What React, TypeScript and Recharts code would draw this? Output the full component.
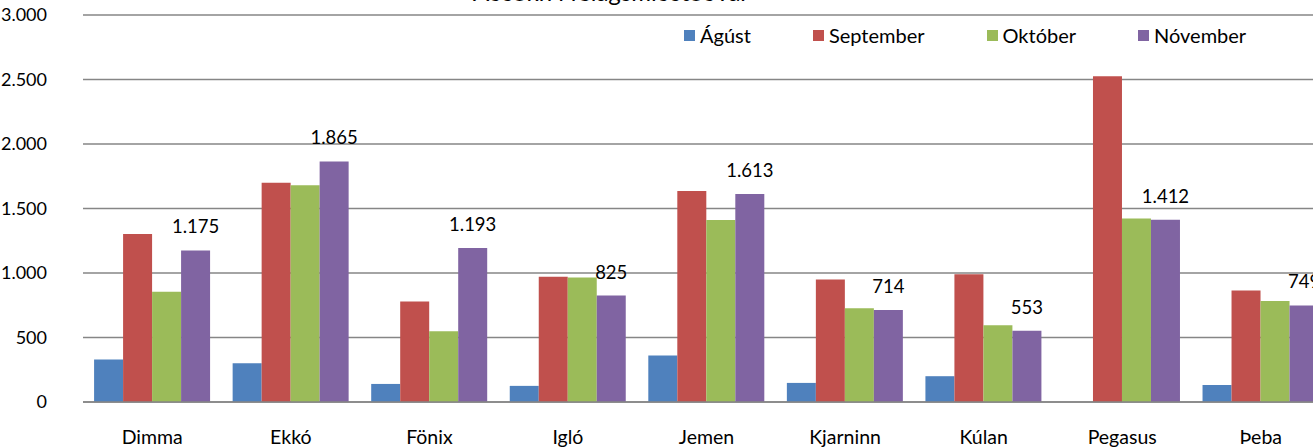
import React from 'react';
import { BarChart, Bar, XAxis, YAxis, CartesianGrid, Legend, LabelList } from 'recharts';

const categories = ['Dimma', 'Ekkó', 'Fönix', 'Igló', 'Jemen', 'Kjarninn', 'Kúlan', 'Pegasus', 'Þeba'];
const agust = [330, 300, 140, 125, 360, 148, 200, 0, 132];
const september = [1303, 1700, 780, 970, 1635, 950, 990, 2525, 865];
const oktober = [855, 1680, 548, 965, 1411, 726, 594, 1422, 783];
const november = [1175, 1865, 1193, 825, 1613, 714, 553, 1412, 749];
const yTicks = [0, 500, 1000, 1500, 2000, 2500, 3000];

const series = [
  { key: 'agust', name: 'Ágúst', color: '#4F81BD' },
  { key: 'september', name: 'September', color: '#C0504D' },
  { key: 'oktober', name: 'Október', color: '#9BBB59' },
  { key: 'november', name: 'Nóvember', color: '#8064A2' },
];

const data = categories.map((name, i) => ({
  name,
  agust: agust[i],
  september: september[i],
  oktober: oktober[i],
  november: november[i],
}));

// icelandic thousands separator: 1.175
const fmt = (v: any) => String(v).replace(/\B(?=(\d{3})+(?!\d))/g, '.');

const font = 'Lato, "Noto Sans", sans-serif';

const renderLegend = () => (
  <div style={{ display: 'flex', alignItems: 'center', paddingLeft: 684, fontFamily: font, fontSize: 20, color: '#000' }}>
    {series.map((s) => (
      <div key={s.key} style={{ display: 'flex', alignItems: 'center', marginRight: 62 }}>
        <span style={{ width: 11, height: 11, background: s.color, marginRight: 5, display: 'inline-block' }} />
        <span>{s.name}</span>
      </div>
    ))}
  </div>
);

export default function App() {
  return (
    <div
      style={{
        position: 'fixed',
        left: 0,
        top: 0,
        width: 1313,
        height: 448,
        overflow: 'hidden',
        background: '#fff',
        fontFamily: font,
      }}
    >
      {/* title sits mostly above the picture, only the bottom of it shows */}
      <div
        style={{
          position: 'absolute',
          top: -19.5,
          left: 311,
          width: 600,
          textAlign: 'center',
          fontSize: 24,
          lineHeight: '22px',
          color: '#000',
          whiteSpace: 'nowrap',
        }}
      >
        Aðsókn í félagsmiðstöðvar
      </div>
      <BarChart
        width={1330}
        height={448}
        data={data}
        margin={{ top: 15, right: 0, bottom: 0, left: 0 }}
        barCategoryGap="8%"
        barGap={0}
      >
        <CartesianGrid vertical={false} stroke="#868686" strokeWidth={1.7} />
        <XAxis
          dataKey="name"
          height={46}
          tickSize={0}
          tickMargin={28}
          axisLine={{ stroke: '#868686', strokeWidth: 1.7 }}
          tick={{ fill: '#000', fontSize: 19.5, fontFamily: font }}
          interval={0}
        />
        <YAxis
          width={83}
          domain={[0, 3000]}
          ticks={yTicks}
          tickFormatter={fmt}
          tickSize={0}
          tickMargin={36}
          axisLine={false}
          tick={{ fill: '#000', fontSize: 18, fontFamily: font }}
        />
        <Legend
          layout="horizontal"
          verticalAlign="middle"
          align="center"
          content={renderLegend}
          wrapperStyle={{ top: 23, left: 0, width: 1330 }}
        />
        {series.map((s) => (
          <Bar key={s.key} dataKey={s.key} name={s.name} fill={s.color} isAnimationActive={false}>
            {s.key === 'november' && (
              <LabelList
                dataKey="november"
                position="top"
                offset={17}
                formatter={fmt}
                style={{ fill: '#000', fontSize: 18.5, fontFamily: font }}
              />
            )}
          </Bar>
        ))}
      </BarChart>
    </div>
  );
}
